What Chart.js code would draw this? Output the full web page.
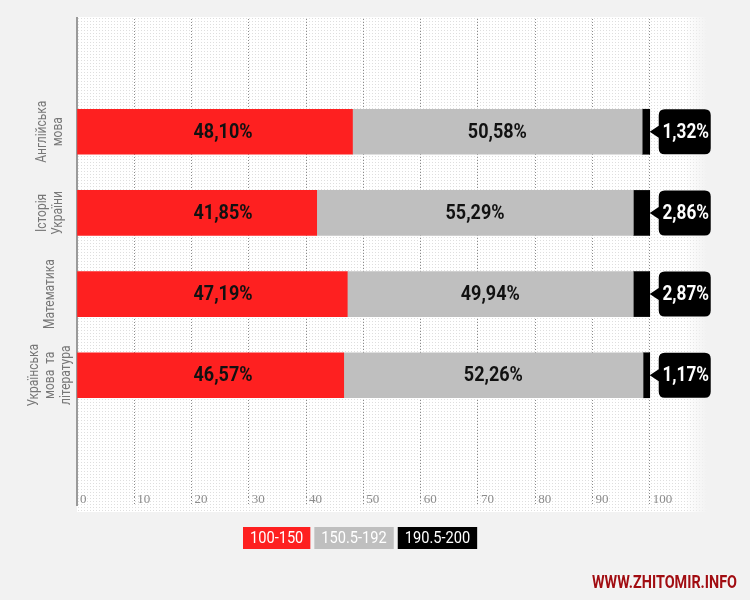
<!DOCTYPE html>
<html>
<head>
<meta charset="utf-8">
<script src="https://cdn.jsdelivr.net/npm/chart.js@4.4.1/dist/chart.umd.min.js"></script>
<style>
  html, body { margin: 0; padding: 0; background: #f2f2f2; }
  #wrap { width: 750px; height: 600px; }
</style>
</head>
<body>
<div id="wrap"><canvas id="chart" width="750" height="600"></canvas></div>
<script>
// дані (частка учасників за діапазоном балів)
const categories = [
  ['Англійська', 'мова'],
  ['Історія', 'України'],
  ['Математика'],
  ['Українська', 'мова  та', 'література']
];
const lowShare  = [48.10, 41.85, 47.19, 46.57];   // 100-150
const midShare  = [50.58, 55.29, 49.94, 52.26];   // 150.5-192
const highShare = [1.32, 2.86, 2.87, 1.17];       // 190.5-200
const legendLabels = ['100-150', '150.5-192', '190.5-200'];
const COLORS = ['#fe2020', '#bfbfbf', '#000000'];
const X_MAX = 110;
const X_STEP = 10;

const FONT = 'Roboto, "DejaVu Sans", sans-serif';
const TICK_FONT = '13px "Liberation Serif", "DejaVu Serif", serif';
const PAGE_BG = '#f2f2f2';

// порожні категорії зверху і знизу, як на оригіналі
const pad = arr => [null, ...arr, null];
const axisLabels = ['', ...categories.map(c => c.join(' ')), ''];

const fmt = v => v.toFixed(2).replace('.', ',') + '%';

// звужений текст (у пісочниці немає вузького шрифту)
function narrowText(ctx, text, x, y, sx) {
  ctx.save();
  ctx.translate(x, y);
  ctx.scale(sx, 1);
  ctx.fillText(text, 0, 0);
  ctx.restore();
}

function dotPattern(ctx) {
  const c = document.createElement('canvas');
  c.width = 3; c.height = 3;
  const p = c.getContext('2d');
  p.fillStyle = '#ffffff';
  p.fillRect(0, 0, 3, 3);
  p.fillStyle = '#dedede';
  p.fillRect(0, 0, 1, 1);
  return ctx.createPattern(c, 'repeat');
}

function drawCallout(ctx, tip, x0, x1, top, bottom, cy) {
  const r = 6;
  ctx.beginPath();
  ctx.moveTo(x0 + r, top);
  ctx.lineTo(x1 - r, top);
  ctx.quadraticCurveTo(x1, top, x1, top + r);
  ctx.lineTo(x1, bottom - r);
  ctx.quadraticCurveTo(x1, bottom, x1 - r, bottom);
  ctx.lineTo(x0 + r, bottom);
  ctx.quadraticCurveTo(x0, bottom, x0, bottom - r);
  ctx.lineTo(x0, cy + 6);
  ctx.lineTo(tip, cy);
  ctx.lineTo(x0, cy - 6);
  ctx.lineTo(x0, top + r);
  ctx.quadraticCurveTo(x0, top, x0 + r, top);
  ctx.closePath();
  ctx.fill();
}

const decor = {
  id: 'decor',
  beforeDraw(chart) {
    const { ctx, chartArea: a } = chart;
    ctx.save();
    ctx.fillStyle = PAGE_BG;
    ctx.fillRect(0, 0, chart.width, chart.height);
    ctx.fillStyle = dotPattern(ctx);
    ctx.fillRect(a.left, a.top + 7, a.right - a.left, a.bottom - a.top + 8);
    const g = ctx.createLinearGradient(a.right - 22, 0, a.right, 0);
    g.addColorStop(0, 'rgba(242,242,242,0)');
    g.addColorStop(1, 'rgba(242,242,242,1)');
    ctx.fillStyle = g;
    ctx.fillRect(a.right - 22, a.top + 7, 22, a.bottom - a.top + 8);
    ctx.restore();
  },
  beforeDatasetsDraw(chart) {
    const { ctx, chartArea: a } = chart;
    const x = chart.scales.x;
    ctx.save();
    // обрізаємо верх сітки
    ctx.fillStyle = PAGE_BG;
    ctx.fillRect(a.left - 2, 0, a.right - a.left + 4, a.top + 7);
    // ліва вісь
    ctx.strokeStyle = '#9a9a9a';
    ctx.lineWidth = 2;
    ctx.beginPath();
    ctx.moveTo(a.left, a.top + 7);
    ctx.lineTo(a.left, a.bottom + 9);
    ctx.stroke();
    // підписи осі X (біля лінії сітки, всередині поля)
    ctx.fillStyle = '#8c8c8c';
    ctx.font = TICK_FONT;
    ctx.textAlign = 'left';
    ctx.textBaseline = 'middle';
    x.ticks.forEach(t => {
      if (t.value >= X_MAX) return;
      ctx.fillText(String(t.value), x.getPixelForValue(t.value) + 3, a.bottom + 3);
    });
    ctx.restore();
  },
  afterDatasetsDraw(chart) {
    const { ctx } = chart;
    ctx.save();
    ctx.textAlign = 'center';
    ctx.textBaseline = 'middle';
    ctx.font = 'bold 20px ' + FONT;
    const x = chart.scales.x;

    // підписи в червоних і сірих сегментах
    [0, 1].forEach(di => {
      const meta = chart.getDatasetMeta(di);
      meta.data.forEach((el, i) => {
        const v = chart.data.datasets[di].data[i];
        if (v == null) return;
        const cx = di === 0 ? x.getPixelForValue(25.5) : (el.x + el.base) / 2;
        ctx.fillStyle = '#111';
        narrowText(ctx, fmt(v), cx, el.y + 1, 0.9);
      });
    });

    // виноски для чорних сегментів
    const meta = chart.getDatasetMeta(2);
    meta.data.forEach((el, i) => {
      const v = chart.data.datasets[2].data[i];
      if (v == null) return;
      const tip = el.x;
      const top = el.y - el.height / 2;
      const bottom = el.y + el.height / 2;
      ctx.fillStyle = '#000';
      drawCallout(ctx, tip, tip + 9, tip + 61, top, bottom, el.y);
      ctx.fillStyle = '#fff';
      narrowText(ctx, fmt(v), tip + 36, el.y + 1, 0.86);
    });
    ctx.restore();
  },
  afterDraw(chart) {
    const { ctx } = chart;
    const y = chart.scales.y;
    ctx.save();

    // підписи категорій (повернуті)
    ctx.fillStyle = '#777';
    ctx.font = '15px ' + FONT;
    ctx.textAlign = 'center';
    ctx.textBaseline = 'middle';
    categories.forEach((lines, i) => {
      const cy = y.getPixelForValue(i + 1);
      lines.forEach((line, j) => {
        const off = (j - (lines.length - 1) / 2) * 16;
        ctx.save();
        ctx.translate(50 + off, cy);
        ctx.rotate(-Math.PI / 2);
        ctx.scale(0.8, 1);
        ctx.fillText(line, 0, 0);
        ctx.restore();
      });
    });

    // легенда
    ctx.font = '17px ' + FONT;
    const sx = 0.86;
    let lx = 243;
    legendLabels.forEach((lab, i) => {
      const w = ctx.measureText(lab).width * sx + 14;
      ctx.fillStyle = COLORS[i];
      ctx.fillRect(lx, 527, w, 22);
      ctx.fillStyle = '#fff';
      narrowText(ctx, lab, lx + w / 2, 538.5, sx);
      lx += w + 4;
    });

    // підпис сайту
    ctx.font = 'bold 18px ' + FONT;
    ctx.textAlign = 'right';
    ctx.shadowColor = 'rgba(255,255,255,0.95)';
    ctx.shadowBlur = 3;
    ctx.fillStyle = '#a10d12';
    narrowText(ctx, 'WWW.ZHITOMIR.INFO', 737, 583, 0.8);
    ctx.restore();
  }
};

new Chart(document.getElementById('chart'), {
  type: 'bar',
  data: {
    labels: axisLabels,
    datasets: [
      { label: legendLabels[0], data: pad(lowShare),  backgroundColor: COLORS[0] },
      { label: legendLabels[1], data: pad(midShare),  backgroundColor: COLORS[1] },
      { label: legendLabels[2], data: pad(highShare), backgroundColor: COLORS[2] }
    ]
  },
  options: {
    indexAxis: 'y',
    responsive: false,
    animation: false,
    layout: { padding: { left: 77, right: 43, top: 10, bottom: 95 } },
    datasets: { bar: { barThickness: 45, borderWidth: 0 } },
    plugins: {
      legend: { display: false },
      tooltip: { enabled: false }
    },
    scales: {
      y: {
        stacked: true,
        display: false
      },
      x: {
        stacked: true,
        min: 0,
        max: X_MAX,
        afterFit: s => { s.height = 8; },
        border: { display: false, dash: [1, 2] },
        grid: {
          drawTicks: true,
          tickLength: 8,
          tickBorderDash: [1, 2],
          color: ctx => (ctx.tick && ctx.tick.value >= X_MAX) ? 'rgba(0,0,0,0)' : '#8a8a8a',
          lineWidth: 1
        },
        ticks: {
          stepSize: X_STEP,
          display: false
        }
      }
    }
  },
  plugins: [decor]
});
</script>
</body>
</html>
